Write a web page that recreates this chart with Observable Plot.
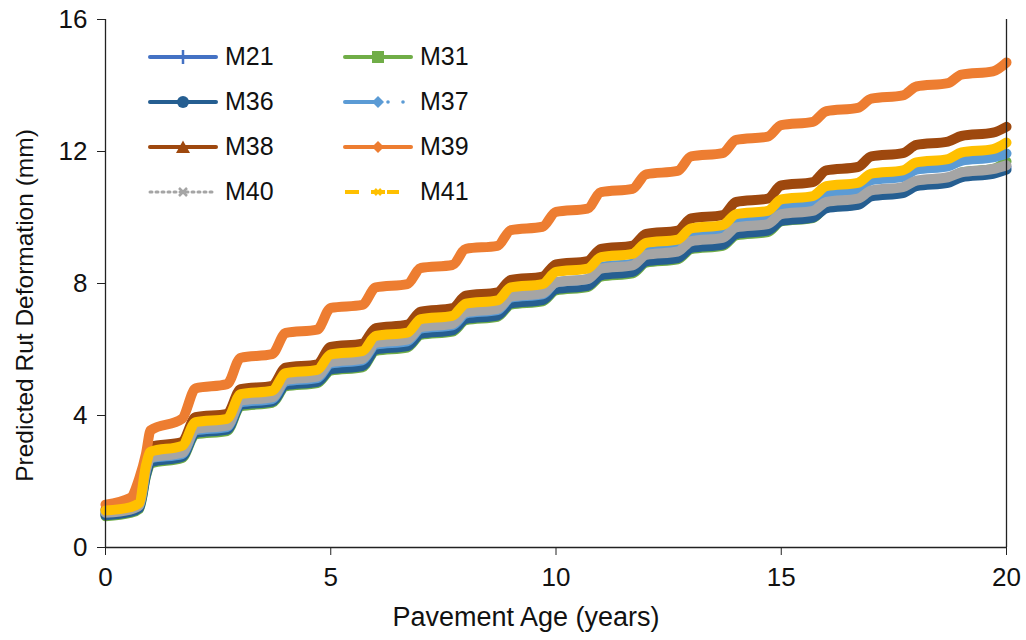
<!DOCTYPE html>
<html><head><meta charset="utf-8">
<script src="https://cdn.jsdelivr.net/npm/d3@7"></script>
<script src="https://cdn.jsdelivr.net/npm/@observablehq/plot@0.6"></script>
<style>
body{margin:0;background:#fff;font-family:"Liberation Sans",Arial,sans-serif;}
#wrap{position:relative;width:1026px;height:640px;}
#legend{position:absolute;left:148px;top:34px;display:grid;grid-template-columns:195px 195px;}
.item{display:flex;align-items:center;height:45px;font-size:25px;color:#111;}
.item svg{margin-right:7px;}
</style></head>
<body><div id="wrap"><div id="legend"></div></div>
<script>
const seriesNames = ["M21","M31","M36","M37","M38","M39","M40","M41"];
const seriesColors = ["#4472C4","#70AD47","#255E91","#5B9BD5","#9E480E","#ED7D31","#A5A5A5","#FFC000"];
const xTicks = [0,5,10,15,20];
const yTicks = [0,4,8,12,16];
const xTitle = "Pavement Age (years)";
const yTitle = "Predicted Rut Deformation (mm)";
const ages = [0,0.55,0.75,0.9,1,1.7,2,2.7,3,3.7,4,4.7,5,5.7,6,6.7,7,7.7,8,8.7,9,9.7,10,10.7,11,11.7,12,12.7,13,13.7,14,14.7,15,15.7,16,16.7,17,17.7,18,18.7,19,19.7,20];
const M21 = [1.02,1.12,1.25,2.28,2.66,2.82,3.55,3.65,4.40,4.50,5.00,5.10,5.48,5.58,6.08,6.18,6.56,6.66,7.01,7.11,7.48,7.58,7.91,8.01,8.33,8.43,8.75,8.85,9.16,9.26,9.58,9.68,9.98,10.08,10.36,10.46,10.72,10.82,11.03,11.13,11.30,11.40,11.52];
const M31 = [0.95,1.05,1.17,2.16,2.54,2.71,3.43,3.53,4.28,4.38,4.88,4.98,5.36,5.46,5.96,6.06,6.44,6.54,6.89,6.99,7.36,7.46,7.79,7.89,8.21,8.31,8.63,8.73,9.04,9.14,9.46,9.56,9.88,9.98,10.30,10.40,10.70,10.80,11.05,11.15,11.37,11.47,11.70];
const M36 = [0.98,1.08,1.20,2.20,2.58,2.75,3.47,3.57,4.32,4.42,4.92,5.02,5.40,5.50,6.00,6.10,6.48,6.58,6.93,7.03,7.40,7.50,7.83,7.93,8.25,8.35,8.67,8.77,9.08,9.18,9.50,9.60,9.90,10.00,10.28,10.38,10.64,10.74,10.95,11.05,11.22,11.32,11.45];
const M37 = [1.08,1.17,1.30,2.38,2.70,2.83,3.55,3.65,4.40,4.50,5.03,5.13,5.57,5.67,6.15,6.25,6.63,6.73,7.09,7.19,7.57,7.67,8.03,8.13,8.50,8.60,8.97,9.07,9.43,9.53,9.90,10.00,10.35,10.45,10.75,10.85,11.13,11.23,11.45,11.55,11.72,11.82,11.94];
const M38 = [1.15,1.28,1.42,2.65,3.05,3.20,3.95,4.05,4.80,4.90,5.45,5.55,6.08,6.18,6.65,6.75,7.15,7.25,7.63,7.73,8.11,8.21,8.58,8.68,9.05,9.15,9.50,9.60,9.97,10.07,10.47,10.57,10.97,11.07,11.43,11.53,11.85,11.95,12.20,12.30,12.47,12.57,12.75];
const M39 = [1.30,1.50,2.10,2.85,3.55,3.90,4.82,4.95,5.75,5.86,6.50,6.60,7.26,7.35,7.88,7.98,8.47,8.56,9.05,9.14,9.62,9.72,10.17,10.27,10.77,10.87,11.31,11.41,11.85,11.95,12.35,12.45,12.80,12.90,13.22,13.32,13.60,13.70,13.97,14.07,14.33,14.43,14.70];
const M40 = [1.05,1.15,1.28,2.35,2.72,2.87,3.59,3.69,4.45,4.55,5.08,5.18,5.62,5.72,6.20,6.30,6.68,6.78,7.13,7.23,7.60,7.70,8.03,8.13,8.45,8.55,8.87,8.97,9.28,9.38,9.70,9.80,10.10,10.20,10.47,10.57,10.82,10.92,11.12,11.22,11.37,11.47,11.58];
const M41 = [1.12,1.22,1.35,2.50,2.90,3.08,3.80,3.90,4.65,4.75,5.28,5.38,5.85,5.95,6.41,6.51,6.92,7.02,7.39,7.49,7.88,7.98,8.35,8.45,8.80,8.90,9.23,9.33,9.67,9.77,10.10,10.20,10.55,10.65,10.95,11.05,11.33,11.43,11.67,11.77,11.97,12.07,12.27];

const seriesValues = {M21, M31, M36, M37, M38, M39, M40, M41};
const lineMarks = seriesNames.map((name, i) =>
  Plot.line(ages.map((a, j) => ({age: a, rut: seriesValues[name][j]})), {
    x: "age", y: "rut", stroke: seriesColors[i], strokeWidth: 10,
    curve: "monotone-x", strokeLinejoin: "round", strokeLinecap: "round"
  })
);

const chart = Plot.plot({
  width: 1026, height: 640,
  marginLeft: 105, marginRight: 20, marginTop: 19, marginBottom: 93,
  style: {fontFamily: "'Liberation Sans', Arial, sans-serif", fontSize: "26px", color: "#111", background: "#fff", overflow: "visible"},
  x: {domain: [0, 20]},
  y: {domain: [0, 16]},
  marks: [
    ...lineMarks,
    Plot.ruleX([20], {stroke: "#222", strokeWidth: 1.3}),
    Plot.ruleX([0], {stroke: "#222", strokeWidth: 1.3}),
    Plot.ruleY([0], {stroke: "#222", strokeWidth: 1.3}),
    Plot.axisX({ticks: xTicks, tickSize: 8, tickPadding: 12, fontSize: 26, stroke: "#222", label: null}),
    Plot.axisY({ticks: yTicks, tickSize: 8, tickPadding: 10, fontSize: 26, stroke: "#222", label: null}),
    Plot.text([xTitle], {frameAnchor: "bottom", dx: -30, dy: 78, fontSize: 27, fill: "#111"}),
    Plot.text([yTitle], {frameAnchor: "left", textAnchor: "middle", dx: -80, dy: 22, rotate: -90, fontSize: 24.5, fill: "#111"})
  ]
});
document.getElementById("wrap").prepend(chart);

// legend
const markerSvg = {
  M21: c => `<line x1="35" y1="1" x2="35" y2="15" stroke="${c}" stroke-width="2.5"/>`,
  M31: c => `<rect x="29" y="2" width="12" height="12" fill="${c}"/>`,
  M36: c => `<circle cx="35" cy="8" r="6" fill="${c}"/>`,
  M37: c => `<path d="M35 2 L41 8 L35 14 L29 8Z" fill="${c}"/>`,
  M38: c => `<path d="M35 1.5 L42 14 L28 14Z" fill="${c}"/>`,
  M39: c => `<path d="M35 2 L41 8 L35 14 L29 8Z" fill="${c}"/>`,
  M40: c => `<path d="M31 4 L39 12 M39 4 L31 12" stroke="${c}" stroke-width="2.5"/>`,
  M41: c => `<path d="M32 5 L38 11 M38 5 L32 11" stroke="${c}" stroke-width="2.5"/>`
};
const solid = c => `<line x1="2" y1="8" x2="68" y2="8" stroke="${c}" stroke-width="4" stroke-linecap="round"/>`;
const lineSvg = {
  M21: solid, M31: solid, M36: solid, M38: solid, M39: solid,
  M37: c => `<line x1="2" y1="8" x2="35" y2="8" stroke="${c}" stroke-width="4" stroke-linecap="round"/><circle cx="45" cy="8" r="1.8" fill="${c}"/><circle cx="60" cy="8" r="1.8" fill="${c}"/>`,
  M40: c => `<line x1="2" y1="8" x2="68" y2="8" stroke="${c}" stroke-width="3" stroke-dasharray="2,4" stroke-linecap="round"/>`,
  M41: c => `<line x1="2" y1="8" x2="16" y2="8" stroke="${c}" stroke-width="4"/><line x1="28" y1="8" x2="42" y2="8" stroke="${c}" stroke-width="4"/><line x1="44" y1="8" x2="56" y2="8" stroke="${c}" stroke-width="4"/>`
};
const legend = document.getElementById("legend");
seriesNames.forEach((name, i) => {
  const c = seriesColors[i];
  const div = document.createElement("div");
  div.className = "item";
  div.innerHTML = `<svg width="70" height="16">${lineSvg[name](c)}${markerSvg[name](c)}</svg><span>${name}</span>`;
  legend.appendChild(div);
});
</script></body></html>
